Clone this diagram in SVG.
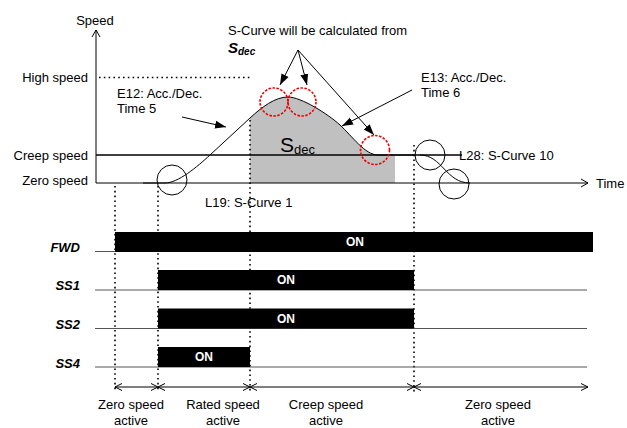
<svg xmlns="http://www.w3.org/2000/svg" width="627" height="428" viewBox="0 0 627 428">
<style>
text{font-family:"Liberation Sans",Arial,sans-serif;font-size:13px;fill:#000}
.r{text-anchor:end}
.m{text-anchor:middle}
.sig{font-weight:bold;font-style:italic}
.on{font-weight:bold;fill:#fff;font-size:12px;text-anchor:middle}
.ln{stroke:#000;stroke-width:1;fill:none}
.dot{stroke:#000;stroke-width:1.6;stroke-dasharray:1.6 3.2;fill:none}
.red{stroke:#e00;stroke-width:1.6;stroke-dasharray:2.5 1.5;fill:none}
.bar{fill:#000}
.base{stroke:#555;stroke-width:1;fill:none}
</style>
<defs>
<marker id="open" markerWidth="10" markerHeight="10" refX="8" refY="5" orient="auto" markerUnits="userSpaceOnUse">
<path d="M1,1 L8,5 L1,9" fill="none" stroke="#000" stroke-width="1"/>
</marker>
<marker id="fill" markerWidth="12" markerHeight="10" refX="11" refY="5" orient="auto" markerUnits="userSpaceOnUse">
<path d="M0,1 L11,5 L0,9 Z" fill="#000"/>
</marker>
</defs>
<g id="area">
<path d="M250 183 L250 118 C262 107 275 97 288 97 C301 97 328 114 340 125 C352 136 365 155 378 155 L395 155 L395 183 Z" fill="#c0c0c0"/>
</g>
<g id="axes">
<line class="ln" x1="96" y1="183" x2="96" y2="30" marker-end="url(#open)"/>
<line class="ln" x1="96" y1="183" x2="588" y2="183" marker-end="url(#open)" stroke-width="1.2"/>
<line x1="96" y1="155" x2="462" y2="155" stroke="#000" stroke-width="1.6"/>
<line class="dot" x1="99" y1="77.5" x2="250" y2="77.5"/>
<text x="95" y="25" class="m">Speed</text>
<text x="596" y="188">Time</text>
<text x="88" y="82" class="r">High speed</text>
<text x="88" y="160" class="r">Creep speed</text>
<text x="88" y="185" class="r">Zero speed</text>
</g>
<g id="curve">
<path class="ln" stroke-width="1.3" d="M143 183 L165 183 C178 183 197 167 210 155 L250 118 C262 107 275 97 288 97 C301 97 328 114 340 125 C352 136 365 155 378 155 L414 155"/>
<path class="ln" stroke-width="1.3" d="M420 155 C442 155 446 183 470 183"/>
<text x="280" y="152" style="font-size:21px">S<tspan style="font-size:13px" dy="2">dec</tspan></text>
</g>
<g id="circles">
<circle class="ln" cx="172" cy="180" r="15"/>
<circle class="ln" cx="430" cy="155" r="15"/>
<circle class="ln" cx="454" cy="184" r="15"/>
<circle class="red" cx="274" cy="102" r="14"/>
<circle class="red" cx="302" cy="102" r="14"/>
<circle class="red" cx="375" cy="150" r="14.5"/>
</g>
<g id="vlines">
<line class="dot" x1="115" y1="186" x2="115" y2="392"/>
<line class="dot" x1="158" y1="186" x2="158" y2="392"/>
<line class="dot" x1="250" y1="120" x2="250" y2="392"/>
<line class="dot" x1="414" y1="145" x2="414" y2="392"/>
</g>
<g id="annotations">
<text x="228" y="35">S-Curve will be calculated from</text>
<text x="228" y="53" class="sig" style="font-size:15px">S<tspan style="font-size:10px" dy="2">dec</tspan></text>
<line class="ln" x1="298" y1="50" x2="280" y2="85" marker-end="url(#fill)"/>
<line class="ln" x1="298" y1="50" x2="307" y2="85" marker-end="url(#fill)"/>
<line class="ln" x1="298" y1="50" x2="374" y2="135" marker-end="url(#fill)"/>
<text x="117" y="98">E12: Acc./Dec.</text>
<text x="117" y="113">Time 5</text>
<line class="ln" x1="182" y1="117" x2="226" y2="127" marker-end="url(#fill)"/>
<text x="421" y="82">E13: Acc./Dec.</text>
<text x="421" y="97">Time 6</text>
<line class="ln" x1="412" y1="90" x2="342" y2="126" marker-end="url(#fill)"/>
<text x="205" y="207">L19: S-Curve 1</text>
<text x="459" y="160">L28: S-Curve 10</text>
</g>
<g id="FWD">
<text x="80" y="252" class="r sig">FWD</text>
<line class="base" x1="95" y1="251.5" x2="115" y2="251.5"/>
<rect class="bar" x="115" y="232" width="478" height="20"/>
<text x="355" y="246" class="on">ON</text>
</g>
<g id="SS1">
<text x="80" y="290" class="r sig">SS1</text>
<line class="base" x1="95" y1="290" x2="587" y2="290"/>
<rect class="bar" x="158" y="270" width="256" height="20"/>
<text x="286" y="284" class="on">ON</text>
</g>
<g id="SS2">
<text x="80" y="329" class="r sig">SS2</text>
<line class="base" x1="95" y1="328.5" x2="587" y2="328.5"/>
<rect class="bar" x="158" y="308.5" width="256" height="20"/>
<text x="286" y="323" class="on">ON</text>
</g>
<g id="SS4">
<text x="80" y="368" class="r sig">SS4</text>
<line class="base" x1="95" y1="367" x2="587" y2="367"/>
<rect class="bar" x="158" y="347" width="92" height="20"/>
<text x="204" y="361" class="on">ON</text>
</g>
<g id="timeline">
<line class="ln" x1="115" y1="387" x2="588" y2="387"/>
<path class="ln" d="M122 383.5 L115 387 L122 390.5"/>
<path class="ln" d="M151 383.5 L158 387 L151 390.5 M165 383.5 L158 387 L165 390.5"/>
<path class="ln" d="M243 383.5 L250 387 L243 390.5 M257 383.5 L250 387 L257 390.5"/>
<path class="ln" d="M407 383.5 L414 387 L407 390.5 M421 383.5 L414 387 L421 390.5"/>
<path class="ln" d="M581 383.5 L588 387 L581 390.5"/>
<text x="131" y="409" class="m">Zero speed</text>
<text x="131" y="425" class="m">active</text>
<text x="223" y="409" class="m">Rated speed</text>
<text x="223" y="425" class="m">active</text>
<text x="326" y="409" class="m">Creep speed</text>
<text x="326" y="425" class="m">active</text>
<text x="498" y="409" class="m">Zero speed</text>
<text x="498" y="425" class="m">active</text>
</g>
</svg>
